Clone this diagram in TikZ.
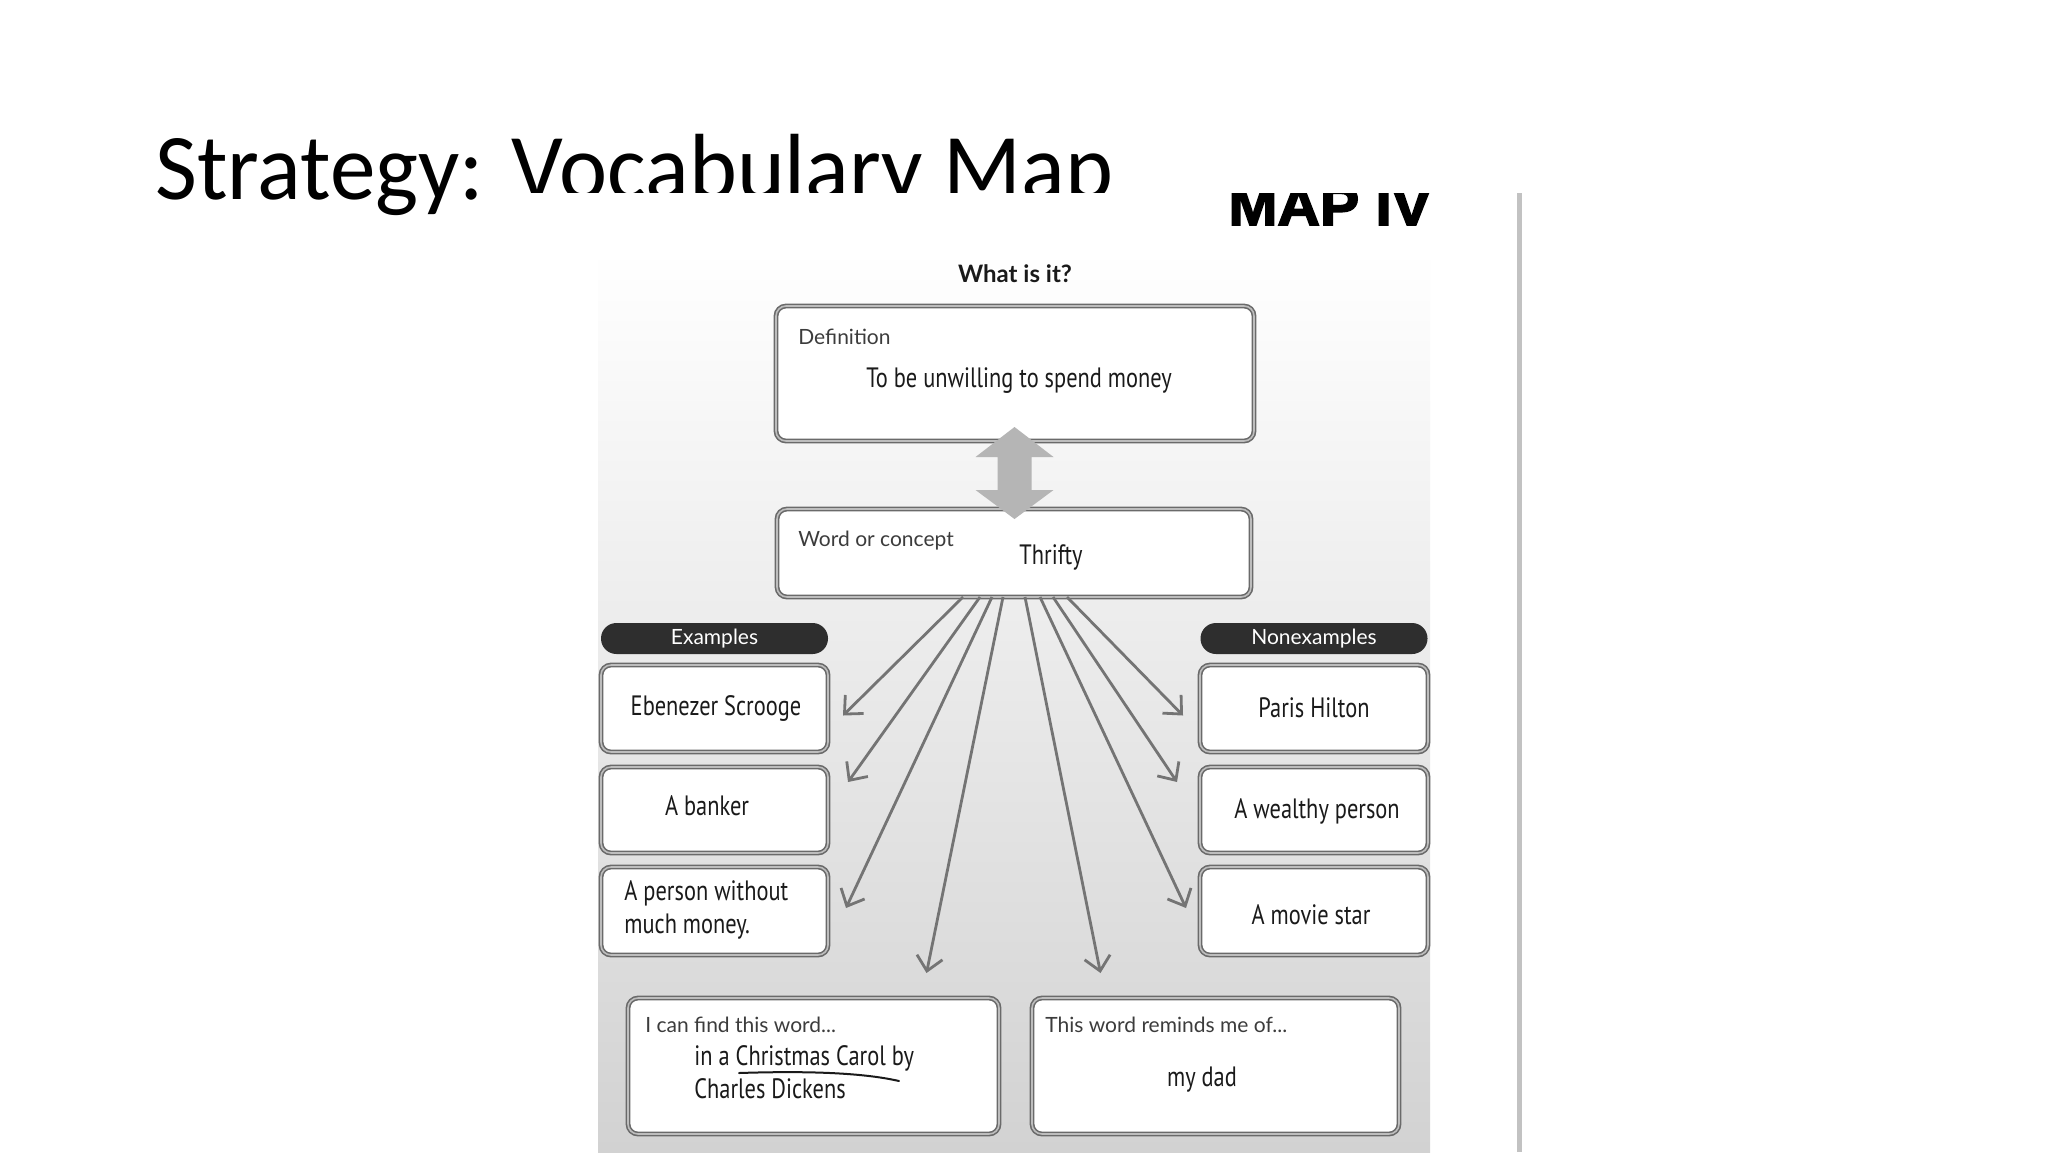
\documentclass[tikz,border=0pt]{standalone}
\usepackage{fontspec}
\usetikzlibrary{arrows.meta,calc}
\setmainfont{Carlito}
\newfontfamily\titlefont[FakeStretch=0.97]{Carlito}
\newfontfamily\labelfont{Lato}
\newfontfamily\handfont[FakeStretch=0.8]{PT Sans}
\newfontfamily\heavyfont[FakeBold=3,FakeStretch=1.07]{Liberation Sans}
\definecolor{boxline}{HTML}{6A6A6A}
\definecolor{boxinner}{HTML}{BDBDBD}
\definecolor{arrline}{HTML}{747474}
\definecolor{pilldark}{HTML}{2E2E2E}
\definecolor{bigarrow}{HTML}{B5B5B5}
\definecolor{bggray}{HTML}{D2D2D2}
\definecolor{rule}{HTML}{C2C2C2}
\definecolor{ink}{HTML}{1A1A1A}
\tikzset{
  box/.style={draw=boxline, double=boxinner, double distance=0.8pt, line width=0.8pt,
    rounded corners=5pt, fill=white, inner sep=0pt, outer sep=0pt},
  pill/.style={fill=pilldark, rounded corners=7.7pt, inner sep=0pt, outer sep=0pt,
    minimum width=113.5pt, minimum height=15.5pt, text=white,
    font=\labelfont\fontsize{10.5}{12}\selectfont},
  lbl/.style={anchor=west, inner sep=0pt, text=ink!85,
    font=\labelfont\fontsize{10.5}{12}\selectfont},
  hand/.style={inner sep=0pt, text=ink, font=\handfont\fontsize{14}{16.5}\selectfont},
  arr/.style={draw=arrline, line width=1.4pt, -{Straight Barb[length=7pt,width=13pt,line width=1.4pt]}},
}
\begin{document}
\begin{tikzpicture}[x=0.5pt,y=-0.5pt]
\useasboundingbox (0,0) rectangle (2048,1152);
\fill[white] (0,0) rectangle (2048,1152);
% title
\node[anchor=base west, inner sep=0pt, font=\titlefont\fontsize{47}{56}\selectfont] (title) at (155,199) {Strategy: Vocabulary Map};
% picture area
\fill[white] (500,193) rectangle (1524,1152);
\begin{scope}
\clip (500,193) rectangle (1524,1152);
\shade[top color=white, bottom color=bggray] (598,250) rectangle (1430,1152);
\node[anchor=base west, inner sep=0pt, font=\heavyfont\bfseries\fontsize{27.5}{30}\selectfont] (mapiv) at (1228,225) {MAP IV};
\end{scope}
\draw[rule, line width=2.5pt] (1519,193) -- (1519,1152);

\node[inner sep=0pt, font=\labelfont\bfseries\fontsize{12}{14}\selectfont, text=ink] (what) at (1015,274) {What is it?};

% main boxes
\node[box, minimum width=239pt, minimum height=67.5pt] (def) at (1015,373.5) {};
\node[box, minimum width=237pt, minimum height=44pt] (word) at (1014,553) {};
\node[lbl] (deflbl) at (798,337) {Definition};
\node[hand] (deftext) at (1019,381) {To be unwilling to spend money};
\node[lbl] (wordlbl) at (798,541) {Word or concept};
\node[hand] (wordtext) at (1051,557) {Thrifty};

% big double arrow
\coordinate (mid) at ($(def.south)!0.5!(word.north)$);
\begin{scope}[shift={(mid)}]
\fill[bigarrow] (0,-48) -- (39,-18) -- (17,-18) -- (17,15) -- (39,15) -- (0,44) -- (-39,15) -- (-17,15) -- (-17,-18) -- (-39,-18) -- cycle;
\end{scope}

% pills
\node[pill] (ex) at (714.5,638.5) {Examples};
\node[pill] (nonex) at (1314,638.5) {Nonexamples};

% side boxes
\node[box, minimum width=113.5pt, minimum height=43.5pt] (L1) at (714.5,708.5) {};
\node[box, minimum width=113.5pt, minimum height=43pt] (L2) at (714.5,810) {};
\node[box, minimum width=113.5pt, minimum height=44pt] (L3) at (714.5,911) {};
\node[box, minimum width=114pt, minimum height=43.5pt] (R1) at (1314,708.5) {};
\node[box, minimum width=114pt, minimum height=43pt] (R2) at (1314,810) {};
\node[box, minimum width=114pt, minimum height=44pt] (R3) at (1314,911) {};

\node[hand] (t1) at (716,708) {Ebenezer Scrooge};
\node[hand] (t2) at (707,806) {A banker};
\node[hand, anchor=west, align=left] (t3) at (624,910) {A person without\\much money.};
\node[hand] (t4) at (1314,708) {Paris Hilton};
\node[hand] (t5) at (1317,811) {A wealthy person};
\node[hand] (t6) at (1311,915) {A movie star};

% bottom boxes
\node[box, minimum width=185.5pt, minimum height=68pt] (BL) at (813.5,1066) {};
\node[box, minimum width=183.5pt, minimum height=68pt] (BR) at (1215.5,1066) {};
\node[lbl] (bllbl) at (645,1025) {I can find this word...};
\node[hand, anchor=north west, align=left] (bltext) at (694,1045) {in a Christmas Carol by\\Charles Dickens};
\node[lbl] (brlbl) at (1045,1025) {This word reminds me of...};
\node[hand] (brtext) at (1202,1080) {my dad};
\draw[ink, line width=1pt, line cap=round] (739,1073) .. controls (800,1071) and (860,1072) .. (899,1081);

% arrows
\foreach \dx/\tgt/\ox/\oy in {-51/L1.east/15/7, -34/L2.east/20/-28, -22/L3.east/18/-3, -11/BL.north/113/-25,
  11/BR.north/-115/-25, 26/R3.west/-14/-3, 39/R2.west/-23/-28, 53/R1.west/-17/7}
  \draw[arr] ($(word.south)+(\dx,0)$) -- ($(\tgt)+(\ox,\oy)$);
\end{tikzpicture}
\end{document}
